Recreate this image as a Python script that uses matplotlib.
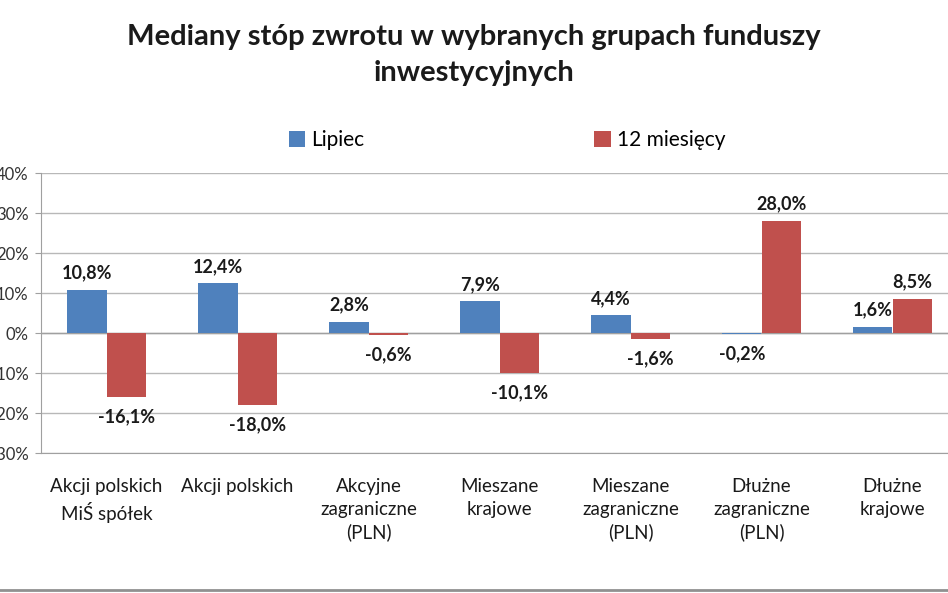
import matplotlib
matplotlib.use("Agg")
import matplotlib.pyplot as plt
import numpy as np

categories = ["Akcji polskich\nMiŚ spółek", "Akcji polskich", "Akcyjne\nzagraniczne\n(PLN)",
              "Mieszane\nkrajowe", "Mieszane\nzagraniczne\n(PLN)", "Dłużne\nzagraniczne\n(PLN)",
              "Dłużne\nkrajowe"]
lipiec = [10.8, 12.4, 2.8, 7.9, 4.4, -0.2, 1.6]
m12 = [-16.1, -18.0, -0.6, -10.1, -1.6, 28.0, 8.5]
series_names = ["Lipiec", "12 miesięcy"]
yticks = [-30, -20, -10, 0, 10, 20, 30, 40]

plt.rcParams['font.family'] = ['Lato', 'DejaVu Sans']

fig = plt.figure(figsize=(9.48, 5.93), dpi=100)
ax = fig.add_axes([41/948, 1-453/593, 917/948, 280/593])

x = np.arange(len(categories))
w = 0.3
blue = "#4F81BD"
red = "#C0504D"
b1 = ax.bar(x - w/2, lipiec, w, color=blue, label=series_names[0], zorder=3)
b2 = ax.bar(x + w/2, m12, w, color=red, label=series_names[1], zorder=3)

def fmt(v):
    return f"{v:.1f}%".replace(".", ",")

for xs, vals in ((x - w/2, lipiec), (x + w/2, m12)):
    for xi, v in zip(xs, vals):
        if v >= 0:
            ax.annotate(fmt(v), (xi, v), xytext=(0, 6), textcoords="offset points",
                        ha="center", va="bottom", fontsize=13, fontweight="bold", color="#1a1a1a")
        else:
            ax.annotate(fmt(v), (xi, min(v, 0)), xytext=(0, -8), textcoords="offset points",
                        ha="center", va="top", fontsize=13, fontweight="bold", color="#1a1a1a")

ax.set_xlim(-0.5, len(categories) - 0.5)
ax.set_ylim(-30, 40)
ax.set_yticks(yticks)
ax.set_yticklabels([f"{t}%" for t in yticks], fontsize=12, color="#333333")
ax.set_xticks(x)
ax.set_xticklabels(categories, fontsize=13.5, color="#1a1a1a", linespacing=1.4)
ax.tick_params(axis='x', length=0, pad=18)
ax.tick_params(axis='y', length=4, pad=5, color="#a0a0a0")
ax.yaxis.grid(True, color="#b8b8b8", linewidth=1, zorder=0)
ax.axhline(0, color="#a0a0a0", linewidth=1, zorder=2)
for s in ["top", "right"]:
    ax.spines[s].set_visible(False)
for s in ["left", "bottom"]:
    ax.spines[s].set_color("#a0a0a0")

fig.text(0.5, 1-37/593, "Mediany stóp zwrotu w wybranych grupach funduszy", ha="center", va="center",
         fontsize=21, fontweight="bold", color="#1a1a1a")
fig.text(0.5, 1-73/593, "inwestycyjnych", ha="center", va="center",
         fontsize=21, fontweight="bold", color="#1a1a1a")

fig.legend(handles=[b1, b2], labels=series_names, loc="center", bbox_to_anchor=(507/948, 1-140/593),
           ncol=2, frameon=False, fontsize=15, columnspacing=11, handlelength=0.8, handleheight=0.8,
           handletextpad=0.3)

fig.add_artist(plt.Line2D([0, 1], [1-590/593, 1-590/593], color="#909090", linewidth=2, transform=fig.transFigure))

fig.savefig("out.png", dpi=100)
